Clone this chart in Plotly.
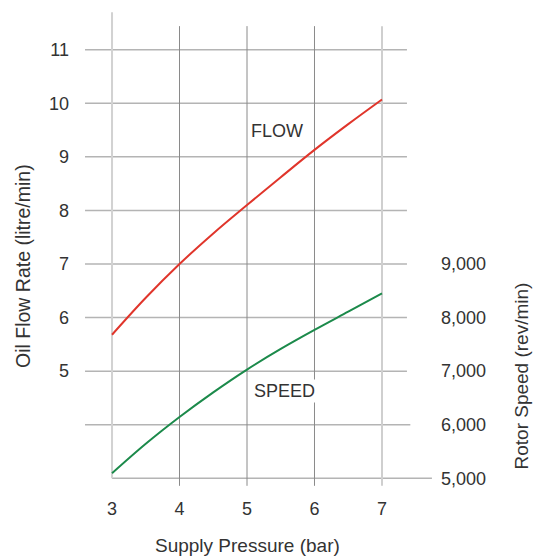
import plotly.graph_objects as go

# ---- data ----
pressure = [3, 3.5, 4, 4.5, 5, 5.5, 6, 6.5, 7]
flow = [5.68, 6.37, 7.0, 7.57, 8.10, 8.62, 9.13, 9.61, 10.07]
speed = [5095, 5645, 6145, 6605, 7030, 7415, 7770, 8110, 8450]
x_ticks = [3, 4, 5, 6, 7]
flow_ticks = [5, 6, 7, 8, 9, 10, 11]
speed_ticks = [5000, 6000, 7000, 8000, 9000]

x_title = "Supply Pressure (bar)"
y_title = "Oil Flow Rate (litre/min)"
y2_title = "Rotor Speed (rev/min)"

RED = "#e0352b"
GREEN = "#1c8a4b"
TXT = "#333333"
FONT = "Liberation Sans"

# plot-area geometry (pixels)
L, R, T, B = 78, 432, 10, 490
W, H = 533, 557
PH = B - T
PW = R - L

# left-axis range; right axis maps 5000 -> 3, 9000 -> 7 on left scale
y_lo, y_hi = 2.782, 11.741
to_left = lambda s: (s - 2000) / 1000.0

fig = go.Figure()
fig.add_trace(go.Scatter(x=pressure, y=flow, mode="lines", line=dict(color=RED, width=2, shape="spline"),
                         showlegend=False, hoverinfo="skip", cliponaxis=False))
fig.add_trace(go.Scatter(x=pressure, y=speed, mode="lines", line=dict(color=GREEN, width=2, shape="spline"),
                         yaxis="y2", showlegend=False, hoverinfo="skip", cliponaxis=False))

GRID_H = "#b4b4b4"
shapes = []
# horizontal grid lines (left scale)
for v in flow_ticks:
    shapes.append(dict(type="line", xref="x", yref="y", x0=2.6, x1=7.37, y0=v, y1=v,
                       line=dict(color=GRID_H, width=1.5), layer="below"))
for s in speed_ticks[:2]:
    lv = to_left(s)
    x0 = 2.6 if s == 6000 else x_ticks[0]
    x1 = 7.42 if s == 6000 else 7.74
    shapes.append(dict(type="line", xref="x", yref="y", x0=x0, x1=x1, y0=lv, y1=lv,
                       line=dict(color=GRID_H, width=1.5), layer="below"))
# vertical grid lines
for xv in x_ticks:
    if xv == x_ticks[0]:
        shapes.append(dict(type="line", xref="x", yref="y", x0=xv, x1=xv, y0=to_left(speed_ticks[0]), y1=11.70,
                           line=dict(color="#d2d2d2", width=2), layer="below"))
    elif xv == x_ticks[-1]:
        shapes.append(dict(type="line", xref="x", yref="y", x0=xv, x1=xv, y0=2.86, y1=11.44,
                           line=dict(color="#cfcfcf", width=2), layer="below"))
    else:
        shapes.append(dict(type="line", xref="x", yref="y", x0=xv, x1=xv, y0=2.86, y1=11.44,
                           line=dict(color="#8a8a8a", width=1), layer="below"))

annotations = [
    dict(x=5.45, y=9.48, xref="x", yref="y", text="FLOW", showarrow=False,
         font=dict(family=FONT, size=18, color=TXT), bgcolor="white"),
    dict(x=5.56, y=4.63, xref="x", yref="y", text="SPEED", showarrow=False,
         font=dict(family=FONT, size=18, color=TXT), bgcolor="white"),
    # axis titles
    dict(x=5, xref="x", y=(B - 545) / PH, yref="paper", text=x_title, showarrow=False,
         xanchor="center", yanchor="middle", font=dict(family=FONT, size=19, color=TXT)),
    dict(x=(23 - L) / PW, xref="paper", y=(B - 266) / PH, yref="paper", text=y_title, showarrow=False,
         textangle=-90, xanchor="center", yanchor="middle", font=dict(family=FONT, size=19.5, color=TXT)),
    dict(x=(521 - L) / PW, xref="paper", y=(B - 376.5) / PH, yref="paper", text=y2_title, showarrow=False,
         textangle=-90, xanchor="center", yanchor="middle", font=dict(family=FONT, size=19, color=TXT)),
]

d0 = (B - 478.3) / PH
d1 = (B - 264.0) / PH

fig.update_layout(
    width=W, height=H,
    margin=dict(l=L, r=W - R, t=T, b=H - B),
    paper_bgcolor="white", plot_bgcolor="rgba(0,0,0,0)",
    font=dict(family=FONT, size=18, color=TXT),
    shapes=shapes, annotations=annotations,
    xaxis=dict(range=[2.496, 7.741], tickvals=x_ticks, showgrid=False, zeroline=False, showline=False,
               ticks="", ticklabelstandoff=6, automargin=False),
    yaxis=dict(range=[y_lo, y_hi], tickvals=flow_ticks, showgrid=False, zeroline=False, showline=False,
               ticks="", ticklabelstandoff=8, automargin=False),
    yaxis2=dict(domain=[d0, d1], range=[5000, 9000], anchor="x", side="right", tickvals=speed_ticks,
                tickformat=",d", showgrid=False, zeroline=False, showline=False, ticks="",
                ticklabelstandoff=8, automargin=False),
)

fig.write_html("out.html")
